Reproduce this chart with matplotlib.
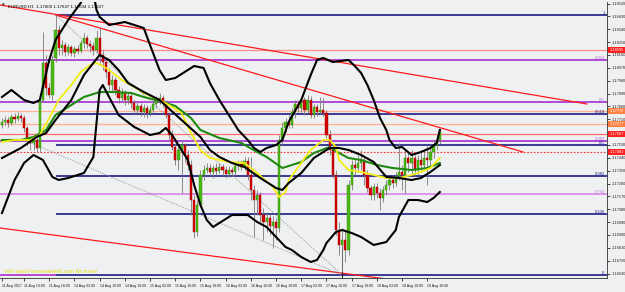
import matplotlib
matplotlib.use("Agg")
import matplotlib.pyplot as plt
import matplotlib.transforms as mtransforms
import numpy as np

plt.rcParams["font.family"] = ["Liberation Sans", "DejaVu Sans"]

# Bougies H1 EURUSD du 11 au 18 août 2017 (index = numéro de barre)
opens = [
    1.17670, 1.17691, 1.17705, 1.17684, 1.17726, 1.17712, 1.17733, 1.17719, 1.17649, 1.17565,
    1.17544, 1.17565, 1.17509, 1.17845, 1.18104, 1.17929, 1.17880, 1.18139, 1.18335, 1.18209,
    1.18230, 1.18181, 1.18216, 1.18174, 1.18202, 1.18188, 1.18244, 1.18279, 1.18237, 1.18223,
    1.18195, 1.18279, 1.18160, 1.18111, 1.18041, 1.17950, 1.17985, 1.17915, 1.17859, 1.17894,
    1.17845, 1.17873, 1.17824, 1.17775, 1.17803, 1.17761, 1.17789, 1.17754, 1.17775, 1.17817,
    1.17845, 1.17859, 1.17824, 1.17740, 1.17600, 1.17516, 1.17425, 1.17495, 1.17530, 1.17460,
    1.17390, 1.17145, 1.16921, 1.17110, 1.17320, 1.17355, 1.17369, 1.17341, 1.17369, 1.17348,
    1.17376, 1.17355, 1.17327, 1.17355, 1.17341, 1.17383, 1.17397, 1.17376, 1.17418, 1.17320,
    1.17215, 1.17145, 1.17180, 1.17040, 1.16991, 1.17019, 1.16963, 1.16991, 1.16949, 1.17565,
    1.17649, 1.17691, 1.17670, 1.17761, 1.17817, 1.17789, 1.17845, 1.17775, 1.17845, 1.17740,
    1.17796, 1.17761, 1.17775, 1.17754, 1.17600, 1.17495, 1.17320, 1.16935, 1.16830, 1.16865,
    1.16795, 1.17250, 1.17390, 1.17369, 1.17404, 1.17425, 1.17320, 1.17229, 1.17180, 1.17236,
    1.17194, 1.17159, 1.17215, 1.17250, 1.17285, 1.17264, 1.17313, 1.17341, 1.17320, 1.17439,
    1.17404, 1.17439, 1.17355, 1.17425, 1.17390, 1.17439, 1.17425, 1.17481, 1.17530, 1.17565,
]
highs = [
    1.17719, 1.17733, 1.17726, 1.17747, 1.17754, 1.17761, 1.17754, 1.17740, 1.17663, 1.17593,
    1.17586, 1.17579, 1.17880, 1.18321, 1.18160, 1.17964, 1.18160, 1.18440, 1.18370, 1.18265,
    1.18251, 1.18237, 1.18230, 1.18223, 1.18230, 1.18265, 1.18314, 1.18300, 1.18265, 1.18251,
    1.18335, 1.18349, 1.18195, 1.18139, 1.18069, 1.18020, 1.18006, 1.17943, 1.17929, 1.17915,
    1.17901, 1.17894, 1.17845, 1.17831, 1.17824, 1.17817, 1.17810, 1.17803, 1.17845, 1.17873,
    1.17894, 1.17880, 1.17845, 1.17761, 1.17635, 1.17544, 1.17530, 1.17565, 1.17544, 1.17495,
    1.17425, 1.17180, 1.17145, 1.17355, 1.17390, 1.17404, 1.17397, 1.17390, 1.17404, 1.17404,
    1.17397, 1.17383, 1.17383, 1.17376, 1.17404, 1.17425, 1.17425, 1.17446, 1.17446, 1.17446,
    1.17250, 1.17215, 1.17201, 1.17089, 1.17061, 1.17047, 1.17033, 1.17019, 1.17600, 1.17691,
    1.17719, 1.17740, 1.17789, 1.17845, 1.17845, 1.17866, 1.17866, 1.17880, 1.17873, 1.17817,
    1.17817, 1.17866, 1.17859, 1.17775, 1.17635, 1.17530, 1.17355, 1.16991, 1.16949, 1.16935,
    1.17285, 1.17425, 1.17425, 1.17460, 1.17495, 1.17446, 1.17355, 1.17250, 1.17264, 1.17264,
    1.17229, 1.17243, 1.17285, 1.17320, 1.17320, 1.17341, 1.17544, 1.17390, 1.17495, 1.17474,
    1.17495, 1.17460, 1.17460, 1.17495, 1.17495, 1.17523, 1.17530, 1.17565, 1.17600, 1.17649,
]
lows = [
    1.17649, 1.17670, 1.17656, 1.17670, 1.17684, 1.17698, 1.17691, 1.17621, 1.17523, 1.17495,
    1.17495, 1.17481, 1.17481, 1.17831, 1.17880, 1.17859, 1.17845, 1.18111, 1.18160, 1.18160,
    1.18153, 1.18160, 1.18153, 1.18146, 1.18167, 1.18174, 1.18209, 1.18209, 1.18181, 1.18160,
    1.18174, 1.18104, 1.18055, 1.17999, 1.17915, 1.17901, 1.17880, 1.17824, 1.17831, 1.17810,
    1.17817, 1.17789, 1.17747, 1.17754, 1.17733, 1.17726, 1.17719, 1.17733, 1.17754, 1.17789,
    1.17817, 1.17796, 1.17719, 1.17565, 1.17495, 1.17390, 1.17355, 1.17194, 1.17411, 1.17355,
    1.17040, 1.16879, 1.16893, 1.17096, 1.17285, 1.17334, 1.17313, 1.17299, 1.17320, 1.17334,
    1.17313, 1.17299, 1.17306, 1.17313, 1.17320, 1.17355, 1.17355, 1.17355, 1.17285, 1.17145,
    1.16886, 1.17040, 1.16991, 1.16865, 1.16921, 1.16900, 1.16809, 1.16865, 1.16921, 1.17530,
    1.17621, 1.17649, 1.17649, 1.17719, 1.17754, 1.17761, 1.17740, 1.17754, 1.17719, 1.17719,
    1.17733, 1.17747, 1.17733, 1.17579, 1.17460, 1.17299, 1.16900, 1.16760, 1.16641, 1.16711,
    1.16760, 1.17215, 1.17320, 1.17341, 1.17355, 1.17250, 1.17201, 1.17145, 1.17145, 1.17159,
    1.17075, 1.17131, 1.17180, 1.17215, 1.17229, 1.17243, 1.17285, 1.17215, 1.17194, 1.17341,
    1.17320, 1.17313, 1.17320, 1.17355, 1.17369, 1.17250, 1.17390, 1.17439, 1.17495, 1.17537,
]
closes = [
    1.17691, 1.17705, 1.17684, 1.17726, 1.17712, 1.17733, 1.17719, 1.17649, 1.17565, 1.17544,
    1.17565, 1.17509, 1.17845, 1.18104, 1.17929, 1.17880, 1.18125, 1.18335, 1.18209, 1.18230,
    1.18181, 1.18216, 1.18174, 1.18202, 1.18188, 1.18244, 1.18279, 1.18237, 1.18223, 1.18195,
    1.18279, 1.18160, 1.18111, 1.18041, 1.17950, 1.17985, 1.17915, 1.17859, 1.17894, 1.17845,
    1.17873, 1.17824, 1.17775, 1.17803, 1.17761, 1.17789, 1.17754, 1.17775, 1.17817, 1.17845,
    1.17859, 1.17824, 1.17740, 1.17600, 1.17516, 1.17425, 1.17495, 1.17530, 1.17460, 1.17390,
    1.17145, 1.16921, 1.17110, 1.17320, 1.17355, 1.17369, 1.17341, 1.17369, 1.17348, 1.17376,
    1.17355, 1.17327, 1.17355, 1.17341, 1.17383, 1.17397, 1.17376, 1.17418, 1.17320, 1.17215,
    1.17145, 1.17180, 1.17040, 1.16991, 1.17019, 1.16963, 1.16991, 1.16949, 1.17565, 1.17649,
    1.17691, 1.17670, 1.17761, 1.17817, 1.17789, 1.17845, 1.17775, 1.17845, 1.17740, 1.17796,
    1.17761, 1.17775, 1.17754, 1.17600, 1.17495, 1.17320, 1.16935, 1.16830, 1.16865, 1.16795,
    1.17250, 1.17390, 1.17369, 1.17404, 1.17425, 1.17320, 1.17229, 1.17180, 1.17236, 1.17194,
    1.17159, 1.17215, 1.17250, 1.17285, 1.17264, 1.17313, 1.17341, 1.17320, 1.17439, 1.17404,
    1.17439, 1.17355, 1.17425, 1.17390, 1.17439, 1.17425, 1.17481, 1.17530, 1.17565, 1.17621,
]

# Bandes de Bollinger
bb_up_bar = [0, 3, 7, 10, 12, 15, 17, 21, 25, 26, 29, 30, 31, 34, 39, 42, 45, 47, 50, 52,
             55, 58, 61, 64, 66, 69, 71, 75, 78, 80, 82, 84, 87, 89, 91, 95, 98, 100, 102, 105,
             110, 112, 114, 116, 118, 120, 122, 123, 125, 127, 130, 133, 136, 138, 139]
bb_up = [1.17866, 1.17915, 1.17845, 1.17824, 1.17845, 1.18125, 1.18265, 1.18405, 1.18524, 1.18601,
         1.18601, 1.18475, 1.18426, 1.18370, 1.18391, 1.18370, 1.18349, 1.18230, 1.18055, 1.17985,
         1.17999, 1.18041, 1.18083, 1.18069, 1.17964, 1.17845, 1.17775, 1.17635, 1.17565, 1.17509,
         1.17481, 1.17509, 1.17530, 1.17565, 1.17691, 1.17845, 1.18020, 1.18125, 1.18139, 1.18111,
         1.18125, 1.18083, 1.18034, 1.17950, 1.17845, 1.17719, 1.17635, 1.17565, 1.17509, 1.17516,
         1.17460, 1.17481, 1.17509, 1.17544, 1.17635]
bb_mid_bar = [0, 6, 11, 14, 17, 22, 26, 31, 34, 37, 40, 45, 50, 57, 63, 66, 69, 73, 77, 82,
              87, 89, 91, 95, 99, 104, 107, 110, 114, 118, 122, 126, 130, 133, 136, 139]
bb_mid = [1.17439, 1.17509, 1.17586, 1.17614, 1.17705, 1.17845, 1.18020, 1.18160, 1.18125, 1.18055,
          1.17964, 1.17901, 1.17845, 1.17705, 1.17586, 1.17495, 1.17446, 1.17404, 1.17376, 1.17299,
          1.17229, 1.17215, 1.17264, 1.17334, 1.17439, 1.17509, 1.17509, 1.17495, 1.17460, 1.17411,
          1.17306, 1.17299, 1.17285, 1.17299, 1.17341, 1.17390]
bb_low_bar = [0, 4, 7, 10, 13, 16, 18, 21, 26, 29, 30, 31, 32, 34, 37, 42, 47, 50, 52, 54,
              59, 61, 63, 65, 67, 69, 73, 78, 81, 84, 87, 90, 92, 95, 98, 100, 102, 103, 106, 108,
              111, 114, 118, 122, 125, 126, 129, 132, 135, 137, 139]
bb_low = [1.17054, 1.17285, 1.17404, 1.17460, 1.17425, 1.17306, 1.17285, 1.17299, 1.17334, 1.17446,
          1.17684, 1.17915, 1.17950, 1.17866, 1.17740, 1.17656, 1.17600, 1.17614, 1.17649, 1.17600,
          1.17425, 1.17250, 1.17110, 1.17005, 1.16956, 1.16984, 1.17040, 1.17040, 1.16991, 1.16956,
          1.16886, 1.16816, 1.16795, 1.16746, 1.16711, 1.16725, 1.16795, 1.16844, 1.16921, 1.16935,
          1.16914, 1.16886, 1.16830, 1.16851, 1.16935, 1.17026, 1.17145, 1.17145, 1.17131, 1.17159,
          1.17201]

# Moyennes mobiles : rapide (jaune) et lente (verte)
ma_fast_bar = [0, 4, 9, 12, 15, 18, 22, 25, 28, 30, 32, 34, 38, 42, 45, 50, 53, 57, 60, 63,
               66, 72, 77, 79, 81, 86, 88, 90, 91, 95, 98, 102, 104, 106, 107, 110, 114, 118, 122, 126,
               130, 133, 136, 139]
ma_fast = [1.17551, 1.17565, 1.17565, 1.17600, 1.17719, 1.17845, 1.17950, 1.18041, 1.18090, 1.18104,
           1.18083, 1.18055, 1.17985, 1.17936, 1.17894, 1.17845, 1.17810, 1.17754, 1.17614, 1.17495,
           1.17439, 1.17411, 1.17404, 1.17369, 1.17334, 1.17236, 1.17166, 1.17201, 1.17285, 1.17404,
           1.17495, 1.17565, 1.17565, 1.17516, 1.17425, 1.17355, 1.17341, 1.17320, 1.17299, 1.17299,
           1.17320, 1.17341, 1.17369, 1.17439]
ma_slow_bar = [0, 6, 10, 14, 17, 22, 26, 31, 36, 41, 45, 50, 55, 60, 63, 69, 76, 81, 84, 89,
               95, 99, 104, 107, 110, 114, 119, 124, 130, 135, 139]
ma_slow = [1.17565, 1.17565, 1.17586, 1.17635, 1.17740, 1.17810, 1.17866, 1.17901, 1.17901, 1.17894,
           1.17866, 1.17838, 1.17803, 1.17719, 1.17635, 1.17579, 1.17544, 1.17481, 1.17446, 1.17369,
           1.17411, 1.17474, 1.17516, 1.17474, 1.17439, 1.17425, 1.17390, 1.17369, 1.17355, 1.17369,
           1.17404]

# Lignes de tendance (barre, prix) de chaque extrémité
trend_a = ([-0.6, 185.7], [1.18510, 1.17817])
trend_b = ([17, 165.4], [1.18440, 1.17481])
trend_c = ([-0.6, 131.7], [1.16949, 1.16564])
dotted_1 = ([17, 108], [1.18440, 1.16620])
dotted_2 = ([7, 108], [1.17565, 1.16620])

# Retracement de Fibonacci
fib_high, fib_low, fib_start = 1.18440, 1.16620, 17
fib_levels = [1.0, 0.618, 0.5, 0.382, 0.236, 0.0]
fib_labels = ["1", "0.618", "0.5", "0.382", "0.236", "0"]

purple_levels = [1.18125, 1.17833, 1.17560]
purple_labels = ["0.854", "0.5", "0.382"]
pale_purple_level = 1.17187
salmon_levels = [1.18195, 1.17770, 1.17677, 1.17607]
salmon_colors = ["#ff8c8c", "#ffb090", "#ffb090", "#ff6e6e"]
dotted_red_level = 1.17481

# Étiquettes de prix colorées sur l'axe de droite
price_tags = [1.18195, 1.17770, 1.17677, 1.17607, 1.17481]
price_tag_colors = ["#ff2020", "#ff8040", "#ff8040", "#ff2020", "#ff2020"]

price_ticks = [1.18520, 1.18430, 1.18340, 1.18250, 1.18160, 1.18070, 1.17980, 1.17890,
               1.17800, 1.17710, 1.17620, 1.17530, 1.17440, 1.17350, 1.17260, 1.17170,
               1.17080, 1.16990, 1.16900, 1.16810, 1.16720, 1.16630]
time_ticks = [0, 7, 15, 23, 31, 39, 47, 55, 63, 71, 79, 87, 95, 103, 111, 119, 127, 135]
time_labels = ["11 Aug 2017", "11 Aug 10:00", "11 Aug 18:00", "14 Aug 02:00", "14 Aug 10:00",
               "14 Aug 18:00", "15 Aug 02:00", "15 Aug 10:00", "15 Aug 18:00", "16 Aug 02:00",
               "16 Aug 10:00", "16 Aug 18:00", "17 Aug 02:00", "17 Aug 10:00", "17 Aug 18:00",
               "18 Aug 02:00", "18 Aug 10:00", "18 Aug 18:00"]

BG = "#eff0f2"
NAVY = "#1c1c86"
PURPLE = "#a62ed0"
X_MIN, X_MAX = -0.635, 192.06

fig = plt.figure(figsize=(6.25, 2.92), dpi=100, facecolor=BG)
ax = fig.add_axes([0.0, 14 / 292, 607 / 625, 276 / 292])
ax.set_facecolor(BG)
ax.set_xlim(X_MIN, X_MAX)
ax.set_ylim(1.16599, 1.18531)

# Niveaux horizontaux
for lvl, col in zip(salmon_levels, salmon_colors):
    ax.axhline(lvl, color=col, lw=0.9, zorder=1)
ax.axhline(dotted_red_level, color="#ff3030", lw=0.8, ls=(0, (1.5, 1.5)), zorder=1)
for lvl, lab in zip(purple_levels, purple_labels):
    ax.axhline(lvl, color=PURPLE, lw=1.2, zorder=1)
    ax.text(191.3, lvl, lab, ha="right", va="bottom", fontsize=3.0, color="#b070d8")
ax.axhline(pale_purple_level, color="#d68ee6", lw=1.3, zorder=1)
ax.text(191.3, pale_purple_level, "0.764", ha="right", va="bottom", fontsize=3.0, color="#c080e0")

fib_prices = [fib_low + f * (fib_high - fib_low) for f in fib_levels]
ax.hlines(fib_prices, fib_start, X_MAX, color=NAVY, lw=1.2, zorder=1)
ax.hlines(fib_low, X_MIN, fib_start, color=PURPLE, lw=1.2, zorder=1)
for p, lab in zip(fib_prices, fib_labels):
    ax.text(191.3, p, lab, ha="right", va="bottom", fontsize=3.0, color=NAVY)

# Lignes de tendance
for xs, ys in [trend_a, trend_b, trend_c]:
    ax.plot(xs, ys, color="#ff1a1a", lw=0.9, zorder=2)
for xs, ys in [dotted_1, dotted_2]:
    ax.plot(xs, ys, color="#909090", lw=0.6, ls=(0, (1.5, 1.5)), zorder=2)
ax.vlines(108, 1.16600, 1.16800, color="black", lw=0.6, zorder=2)

# Bougies
o = np.array(opens)
h = np.array(highs)
l = np.array(lows)
c = np.array(closes)
x = np.arange(len(c))
up = c >= o
ax.vlines(x, l, h, color="#7a7a7a", lw=0.6, zorder=3)
body_low = np.minimum(o, c)
body_h = np.maximum(np.abs(c - o), 0.00003)
ax.bar(x[up], body_h[up], bottom=body_low[up], width=0.7, color="#4cb814",
       edgecolor="#2f8a00", linewidth=0.3, zorder=4)
ax.bar(x[~up], body_h[~up], bottom=body_low[~up], width=0.7, color="#d40000",
       edgecolor="#a00000", linewidth=0.3, zorder=4)

# Indicateurs
ax.plot(ma_slow_bar, ma_slow, color="#1f8a10", lw=1.5, zorder=5)
ax.plot(ma_fast_bar, ma_fast, color="#f2ee10", lw=1.3, zorder=5)
for xs, ys in [(bb_up_bar, bb_up), (bb_mid_bar, bb_mid), (bb_low_bar, bb_low)]:
    ax.plot(xs, ys, color="black", lw=1.5, zorder=6, solid_joinstyle="round")

# Étiquettes de prix sur l'axe
trans = mtransforms.blended_transform_factory(ax.transAxes, ax.transData)
for p, col in zip(price_tags, price_tag_colors):
    ax.text(1.004, p, f"{p:.5f}", transform=trans, fontsize=2.8, color="white",
            ha="left", va="center", clip_on=False, zorder=10,
            bbox=dict(boxstyle="square,pad=0.25", fc=col, ec="none"))

# Textes
ax.text(0.014, 0.992, "EURUSD,H1  1.17609 1.17637 1.17604 1.17627", transform=ax.transAxes,
        fontsize=3.2, color="black", ha="left", va="top")
ax.text(0.004, 0.995, "\u25bc", transform=ax.transAxes, fontsize=2.6, color="#303030",
        ha="left", va="top", family=["DejaVu Sans"])
ax.text(0.5, fib_low + 0.00004, "Visit www.Forexrealtrend.com for more!", fontsize=3.8,
        color="#e4de00", ha="left", va="bottom", zorder=7)

# Axes façon MetaTrader
ax.yaxis.tick_right()
ax.set_yticks(price_ticks)
ax.set_yticklabels([f"{p:.5f}" for p in price_ticks], fontsize=2.8, color="#202020")
ax.set_xticks(time_ticks)
ax.set_xticklabels(time_labels, fontsize=2.6, color="#202020")
for lbl in ax.get_xticklabels():
    lbl.set_horizontalalignment("left")
ax.tick_params(axis="y", length=2, width=0.5, pad=1.5)
ax.tick_params(axis="x", length=2, width=0.5, pad=2)
for side in ["top", "left"]:
    ax.spines[side].set_visible(False)
for side in ["right", "bottom"]:
    ax.spines[side].set_linewidth(0.6)
    ax.spines[side].set_color("#303030")

fig.savefig("out.png", dpi=100, facecolor=BG)
